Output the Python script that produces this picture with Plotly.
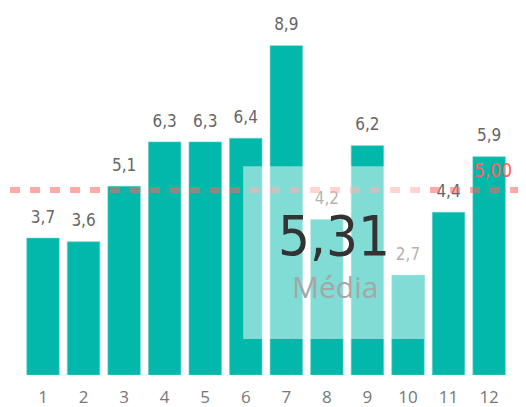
import plotly.graph_objects as go

meses = [1, 2, 3, 4, 5, 6, 7, 8, 9, 10, 11, 12]
valores = [3.7, 3.6, 5.1, 6.3, 6.3, 6.4, 8.9, 4.2, 6.2, 2.7, 4.4, 5.9]
meta = 5.00
media = 5.31

fig = go.Figure()

fig.add_trace(go.Bar(
    x=meses, y=valores,
    marker=dict(color="#01B8AA", line=dict(color="#5fd0c6", width=0.6)),
    hoverinfo="skip",
))

# rótulos de dados num eixo sobreposto, ligeiramente deslocado para cima
fig.add_trace(go.Scatter(
    x=meses, y=valores, yaxis="y2",
    mode="text",
    text=[f"{v:.1f}".replace(".", ",") for v in valores],
    textposition="top center",
    textfont=dict(family="DejaVu Sans Condensed", size=17, color="#666666"),
    hoverinfo="skip",
))

# linha da meta
fig.add_shape(type="line", xref="paper", x0=0.004, x1=1, yref="y", y0=meta, y1=meta,
              line=dict(color="rgba(253,98,94,0.55)", width=6, dash="10px,10px"),
              layer="above")

# cartão da média
fig.add_shape(type="rect", xref="paper", yref="paper",
              x0=0.454, x1=0.803, y0=0.098, y1=0.569,
              fillcolor="rgba(255,255,255,0.5)", line=dict(width=0),
              layer="above")

fig.add_annotation(xref="paper", yref="y", x=0.977, y=meta, xanchor="right", yanchor="bottom",
                   yshift=7, showarrow=False, text=f"{meta:.2f}".replace(".", ","),
                   font=dict(family="DejaVu Sans Condensed", size=19, color="#FD625E"))

fig.add_annotation(xref="paper", yref="paper", x=0.629, y=0.381, showarrow=False,
                   text=f"{media:.2f}".replace(".", ","),
                   font=dict(family="DejaVu Sans Condensed", size=56, color="#333333"))
fig.add_annotation(xref="paper", yref="paper", x=0.631, y=0.18, showarrow=False,
                   text="Média",
                   font=dict(family="Open Sans", size=30, color="#a6a6a6"))

fig.update_layout(
    width=518, height=399,
    margin=dict(l=0, r=0, t=0, b=32),
    paper_bgcolor="white", plot_bgcolor="white",
    showlegend=False,
    bargap=0.2,
    xaxis=dict(range=[0.137, 12.91], tickvals=meses, showgrid=False, zeroline=False,
               showline=False, ticks="", ticklabelstandoff=10,
               tickfont=dict(family="Open Sans", size=17, color="#777777")),
    yaxis=dict(range=[0, 9.92], visible=False),
    yaxis2=dict(range=[-0.3, 9.62], overlaying="y", visible=False),
)

fig.write_html("out.html")
